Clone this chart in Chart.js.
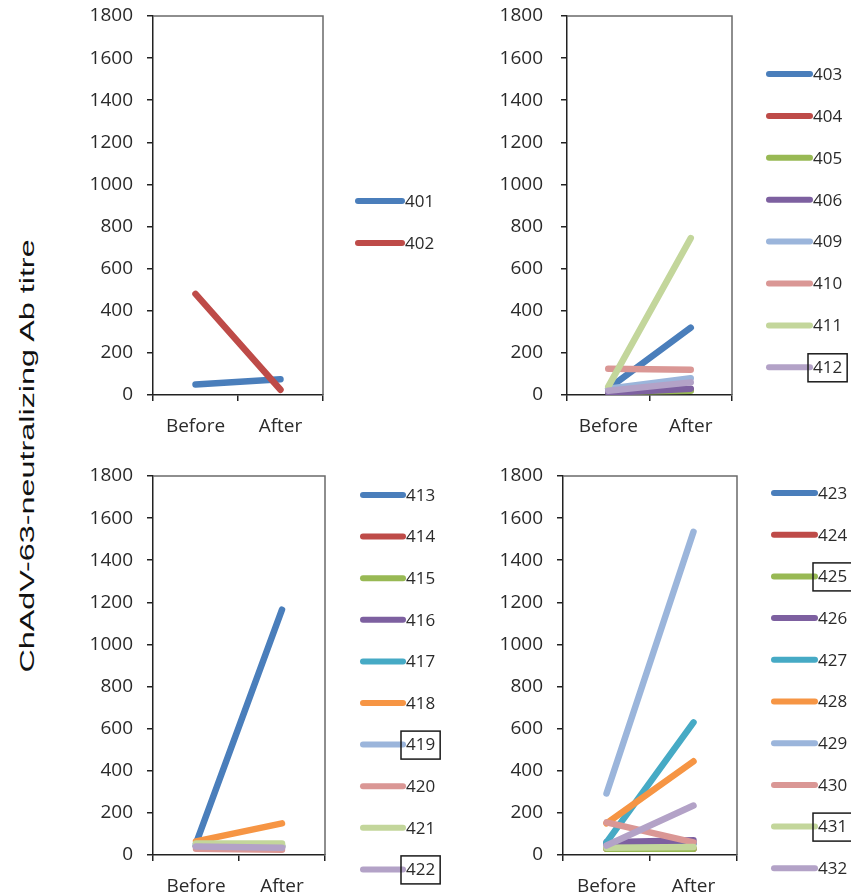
<!DOCTYPE html>
<html>
<head>
<meta charset="utf-8">
<script src="https://cdn.jsdelivr.net/npm/chart.js@4.4.1/dist/chart.umd.min.js"></script>
<style>
  body { margin: 0; background: #fff; }
  #wrap { position: relative; width: 851px; height: 896px; overflow: hidden; }
  canvas { position: absolute; }
  #ytitle {
    position: absolute; left: 27px; top: 456px;
    font: 21px "Liberation Sans", Arial, sans-serif; color: #111;
    white-space: nowrap;
    transform: translate(-50%, -50%) rotate(-90deg) scale(1.54, 1);
  }
</style>
</head>
<body>
<div id="wrap">
  <div id="ytitle">ChAdV-63-neutralizing Ab titre</div>
  <canvas id="p1" width="400" height="440" style="left:60px;top:0px"></canvas>
  <canvas id="p2" width="381" height="440" style="left:470px;top:0px"></canvas>
  <canvas id="p3" width="400" height="436" style="left:60px;top:460px"></canvas>
  <canvas id="p4" width="391" height="436" style="left:460px;top:460px"></canvas>
</div>
<script>
      // Chart data
      const categories = ['Before', 'After'];
      const yTickValues = [0, 200, 400, 600, 800, 1000, 1200, 1400, 1600, 1800];

      const ids1 = ['401', '402'];
      const before1 = [50, 480];
      const after1 = [75, 25];

      const ids2 = ['403', '404', '405', '406', '409', '410', '411', '412'];
      const before2 = [30, 20, 15, 10, 30, 125, 40, 20];
      const after2 = [320, 25, 20, 30, 80, 120, 745, 60];

      const ids3 = ['413', '414', '415', '416', '417', '418', '419', '420', '421', '422'];
      const before3 = [55, 40, 45, 40, 45, 65, 45, 30, 55, 40];
      const after3 = [1165, 40, 45, 35, 40, 150, 45, 25, 55, 35];

      const ids4 = ['423', '424', '425', '426', '427', '428', '429', '430', '431', '432'];
      const before4 = [50, 30, 30, 60, 60, 150, 292, 155, 35, 45];
      const after4 = [55, 30, 30, 70, 630, 445, 1535, 60, 38, 235];

      // Excel-like line colours
      const BLUE = '#4A7EBB', RED = '#BE4B48', GREEN = '#98B954', PURPLE = '#7D60A0',
            AQUA = '#46AAC5', ORANGE = '#F69544', LBLUE = '#9BB5DB', PINK = '#DA9795',
            LGREEN = '#C3D69B', LAV = '#B3A2C7';

      const TICK_FONT = { family: '"Open Sans", sans-serif', size: 19 };

      // opts are given in page coordinates, converted to canvas ones here
      function makePanel(canvasId, ids, before, after, colors, opts) {
        const canvas = document.getElementById(canvasId);
        const W = canvas.width, H = canvas.height;
        const offX = parseFloat(canvas.style.left), offY = parseFloat(canvas.style.top);
        const plotTop = 16, plotBottom = 395;
        const plotLeft = opts.plotLeft - offX, plotRight = opts.plotRight - offX;
        const legX1 = opts.legX1 - offX, legX2 = opts.legX2 - offX, legY = opts.legY - offY;

        const datasets = ids.map((id, i) => ({
          label: id,
          data: [before[i], after[i]],
          borderColor: colors[i],
          backgroundColor: colors[i],
          borderWidth: 6.5,
          borderCapStyle: 'round',
          pointRadius: 0,
          tension: 0,
          order: -i // later series on top, as in the original
        }));

        // frame + custom legend
        const panelPlugin = {
          id: 'panelDecor',
          beforeDatasetsDraw(chart) {
            const a = chart.chartArea, c = chart.ctx;
            c.save();
            c.strokeStyle = '#6a6a6a';
            c.lineWidth = 1.5;
            c.beginPath();
            c.moveTo(a.left, a.top);
            c.lineTo(a.right, a.top);
            c.lineTo(a.right, a.bottom);
            c.stroke();
            c.restore();
          },
          afterDraw(chart) {
            const c = chart.ctx;
            c.save();
            c.font = '17px "Open Sans", sans-serif';
            c.textBaseline = 'middle';
            chart.data.datasets.forEach((ds, i) => {
              const y = legY + i * opts.legGap;
              c.strokeStyle = ds.borderColor;
              c.lineWidth = 6;
              c.lineCap = 'round';
              c.beginPath();
              c.moveTo(legX1, y);
              c.lineTo(legX2, y);
              c.stroke();
              const tx = legX2 + 3;
              c.fillStyle = '#2a2a2a';
              c.fillText(ds.label, tx, y + 1);
              if (opts.boxed.includes(ds.label)) {
                const w = c.measureText(ds.label).width;
                c.strokeStyle = '#1a1a1a';
                c.lineWidth = 1.5;
                c.strokeRect(tx - 5, y - 13.5, w + 10, 28);
              }
            });
            c.restore();
          }
        };

        return new Chart(canvas, {
          type: 'line',
          data: { labels: categories, datasets },
          options: {
            responsive: false,
            animation: false,
            events: [],
            layout: { padding: { top: plotTop, right: W - plotRight, left: 0, bottom: 0 } },
            plugins: { legend: { display: false }, tooltip: { enabled: false } },
            scales: {
              x: {
                offset: true,
                grid: { offset: true, drawOnChartArea: false, drawTicks: true, tickLength: 6, color: '#222', lineWidth: 1.5 },
                border: { display: true, color: '#222', width: 1.5 },
                ticks: { font: TICK_FONT, color: '#2a2a2a', padding: 14, maxRotation: 0 },
                afterFit: (s) => { s.height = H - plotBottom; s.paddingLeft = 0; s.paddingRight = 0; }
              },
              y: {
                min: 0,
                max: 1800,
                afterBuildTicks: (s) => { s.ticks = yTickValues.map(v => ({ value: v })); },
                grid: { drawOnChartArea: false, drawTicks: true, tickLength: 6, color: '#222', lineWidth: 1.5 },
                border: { display: true, color: '#222', width: 1.5 },
                ticks: { font: TICK_FONT, color: '#2a2a2a', padding: opts.yPad, callback: (v) => String(v) },
                afterFit: (s) => { s.width = plotLeft; s.paddingTop = 0; s.paddingBottom = 0; }
              }
            }
          },
          plugins: [panelPlugin]
        });
      }

      makePanel('p1', ids1, before1, after1, [BLUE, RED],
        { plotLeft: 153, plotRight: 323, yPad: 14, legX1: 358, legX2: 402, legY: 201, legGap: 42, boxed: [] });

      makePanel('p2', ids2, before2, after2, [BLUE, RED, GREEN, PURPLE, LBLUE, PINK, LGREEN, LAV],
        { plotLeft: 567, plotRight: 732, yPad: 18, legX1: 769, legX2: 810, legY: 74, legGap: 41.9, boxed: ['412'] });

      makePanel('p3', ids3, before3, after3, [BLUE, RED, GREEN, PURPLE, AQUA, ORANGE, LBLUE, PINK, LGREEN, LAV],
        { plotLeft: 153, plotRight: 325, yPad: 14, legX1: 363, legX2: 403, legY: 495, legGap: 41.6, boxed: ['419', '422'] });

      makePanel('p4', ids4, before4, after4, [BLUE, RED, GREEN, PURPLE, AQUA, ORANGE, LBLUE, PINK, LGREEN, LAV],
        { plotLeft: 563, plotRight: 737, yPad: 14, legX1: 774, legX2: 815, legY: 493, legGap: 41.7, boxed: ['425', '431'] });
</script>
</body>
</html>
